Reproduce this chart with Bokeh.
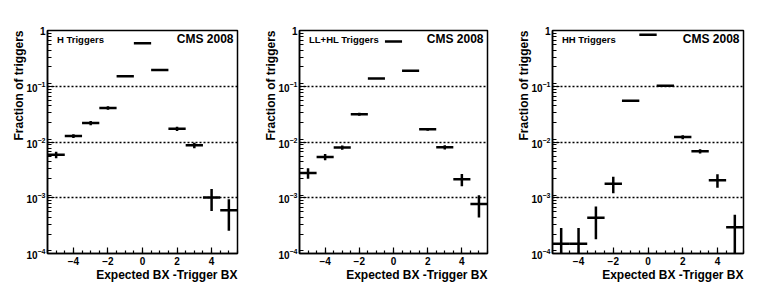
from bokeh.plotting import figure
from bokeh.layouts import row
from bokeh.models import (Label, Title, SingleIntervalTicker, LogTicker, Range1d,
                          ColumnDataSource)
from bokeh.embed import file_html
from bokeh.resources import INLINE

# ---------------- data ----------------
bx = [-5, -4, -3, -2, -1, 0, 1, 2, 3, 4, 5]

h_frac = [0.0059, 0.0128, 0.0219, 0.0407, 0.151, 0.593, 0.196, 0.0173, 0.0087, 0.00101, 0.000596]
h_err = [0.0008, 0.0010, 0.0019, 0.0030, 0.004, 0.008, 0.005, 0.0015, 0.0010, 0.00043, 0.00034]

llhl_frac = [0.00279, 0.0054, 0.00794, 0.0315, 0.1375, 0.635, 0.189, 0.0169, 0.00803, 0.00214, 0.000774]
llhl_err = [0.0006, 0.0007, 0.0007, 0.0020, 0.003, 0.008, 0.004, 0.0010, 0.0007, 0.00053, 0.00033]

hh_frac = [0.00015, 0.00015, 0.00044, 0.00179, 0.0549, 0.837, 0.102, 0.01225, 0.00679, 0.00207, 0.000295]
hh_err = [0.000136, 0.000136, 0.00026, 0.00058, 0.002, 0.008, 0.003, 0.0010, 0.0006, 0.00056, 0.0002]

titles = ["H Triggers", "LL+HL Triggers", "HH Triggers"]
experiment_label = "CMS 2008"
x_title = "Expected BX -Trigger BX"
y_title = "Fraction of triggers"
bin_width = 1.0

FONT = "Liberation Sans"
FRAME_H = 223
B_TOP = 30
B_BOT = 31


def make_panel(title, frac, err, width, bl, br):
    fw = width - bl - br
    p = figure(width=width, height=B_TOP + FRAME_H + B_BOT, y_axis_type="log",
               x_range=Range1d(-5.5, 5.5), y_range=Range1d(1e-4, 1),
               output_backend="svg", toolbar_location=None,
               min_border_left=bl, min_border_right=br,
               min_border_top=B_TOP, min_border_bottom=B_BOT)
    p.background_fill_color = "white"
    p.border_fill_color = "white"
    p.outline_line_color = "black"
    p.outline_line_width = 1.5
    p.outline_line_alpha = 1.0

    src = ColumnDataSource(dict(
        x=bx, y=frac,
        x0=[b - bin_width / 2 for b in bx], x1=[b + bin_width / 2 for b in bx],
        ylo=[max(f - e, 1e-7) for f, e in zip(frac, err)],
        yhi=[f + e for f, e in zip(frac, err)],
    ))
    p.segment(x0="x0", x1="x1", y0="y", y1="y", source=src,
              line_color="black", line_width=2.5)
    p.segment(x0="x", x1="x", y0="ylo", y1="yhi", source=src,
              line_color="black", line_width=2.5)

    # axes
    p.xaxis.ticker = SingleIntervalTicker(interval=2, num_minor_ticks=4)
    p.yaxis.ticker = LogTicker(num_minor_ticks=9)
    p.yaxis.major_label_overrides = {1: "1"}
    for ax in (p.xaxis[0], p.yaxis[0]):
        ax.axis_line_width = 1.5
        ax.axis_line_color = "black"
        ax.major_tick_out = 0
        ax.minor_tick_out = 0
        ax.major_tick_line_width = 1.2
        ax.minor_tick_line_width = 1.2
        ax.major_tick_line_color = "black"
        ax.minor_tick_line_color = "black"
        ax.major_label_text_font = FONT
        ax.major_label_text_font_style = "bold"
        ax.major_label_text_font_size = "10px"
        ax.major_label_text_color = "black"
    p.xaxis.major_tick_in = 6
    p.xaxis.minor_tick_in = 3
    p.xaxis.major_label_standoff = 3
    p.yaxis.major_tick_in = 7
    p.yaxis.minor_tick_in = 4
    p.yaxis.major_label_standoff = 2

    p.xgrid.grid_line_color = None
    p.ygrid.grid_line_color = "black"
    p.ygrid.grid_line_dash = "2 2"
    p.ygrid.grid_line_width = 1.4

    # axis titles (right / top aligned as in ROOT)
    p.add_layout(Title(text=x_title, align="right", text_font=FONT,
                       text_font_style="bold", text_font_size="12px",
                       text_color="black", standoff=-3, offset=0), "below")
    p.add_layout(Title(text=y_title, align="right", text_font=FONT,
                       text_font_style="bold", text_font_size="12px",
                       text_color="black", standoff=-5, offset=0), "left")

    # texts inside the frame
    p.add_layout(Label(x=9.5, y=FRAME_H - 9, x_units="screen", y_units="screen",
                       text=title, text_font=FONT, text_font_style="bold",
                       text_font_size="9.5px", text_baseline="middle",
                       text_align="left", text_color="black"))
    p.add_layout(Label(x=fw - 4, y=FRAME_H - 8, x_units="screen", y_units="screen",
                       text=experiment_label, text_font=FONT,
                       text_font_style="bold", text_font_size="12px",
                       text_baseline="middle", text_align="right",
                       text_color="black"))
    return p


p1 = make_panel(titles[0], h_frac, h_err, 254, 47, 17)
p2 = make_panel(titles[1], llhl_frac, llhl_err, 254, 45, 21)
p3 = make_panel(titles[2], hh_frac, hh_err, 253, 44, 18)

layout = row(p1, p2, p3)
open("out.html", "w").write(file_html(layout, INLINE))
